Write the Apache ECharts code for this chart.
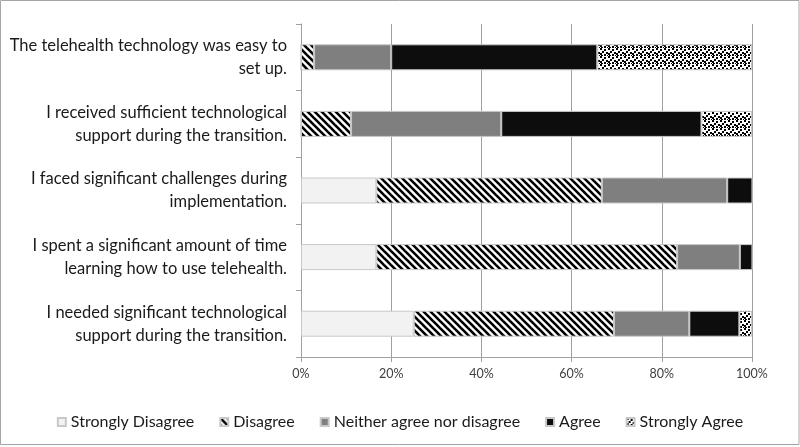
<!DOCTYPE html>
<html>
<head>
<meta charset="utf-8">
<script src="https://cdn.jsdelivr.net/npm/echarts@6/dist/echarts.min.js"></script>
<style>
html,body{margin:0;padding:0;background:#fff;}
#c{width:800px;height:447px;}
</style>
</head>
<body>
<div id="c"></div>
<script>
const categories = [
  "The telehealth technology was easy to\nset up.",
  "I received sufficient technological\nsupport during the transition.",
  "I faced significant challenges during\nimplementation.",
  "I spent a significant amount of time\nlearning how to use telehealth.",
  "I needed significant technological\nsupport during the transition."
];
const seriesNames = ["Strongly Disagree", "Disagree", "Neither agree nor disagree", "Agree", "Strongly Agree"];
const stronglyDisagree = [0, 0, 16.7, 16.7, 25.0];
const disagree = [2.9, 11.1, 50.0, 66.7, 44.4];
const neither = [17.1, 33.3, 27.8, 13.9, 16.7];
const agree = [45.7, 44.4, 5.6, 2.8, 11.1];
const stronglyAgree = [34.3, 11.2, 0, 0, 2.8];
const xTicks = [0, 20, 40, 60, 80, 100];

function stripeTile() {
  const c = document.createElement('canvas');
  const s = 7;
  c.width = s; c.height = s;
  const g = c.getContext('2d');
  g.fillStyle = '#fff'; g.fillRect(0, 0, s, s);
  g.strokeStyle = '#000'; g.lineWidth = 2.6;
  for (let i = -1; i <= 1; i++) {
    g.beginPath(); g.moveTo(i * s - 1, -1); g.lineTo(i * s + s + 1, s + 1); g.stroke();
  }
  return c;
}
function dotTile() {
  const c = document.createElement('canvas');
  const s = 8;
  c.width = s; c.height = s;
  const g = c.getContext('2d');
  g.fillStyle = '#fff'; g.fillRect(0, 0, s, s);
  g.fillStyle = '#000';
  const pts = [[0,0],[4,1],[2,3],[6,4],[0,5],[4,6],[7,7],[1,7]];
  pts.forEach(p => g.fillRect(p[0], p[1], 2, 2));
  return c;
}

const colors = [
  '#f2f2f2',
  { image: stripeTile(), repeat: 'repeat' },
  '#7f7f7f',
  '#0d0d0d',
  { image: dotTile(), repeat: 'repeat' }
];
const dataSets = [stronglyDisagree, disagree, neither, agree, stronglyAgree];

const chart = echarts.init(document.getElementById('c'), null, { renderer: 'canvas' });
chart.setOption({
  animation: false,
  textStyle: { fontFamily: 'Lato' },
  graphic: [{
    type: 'rect', shape: { x: 0.5, y: 0.5, width: 798.5, height: 444 },
    style: { fill: 'none', stroke: '#a6a6a6', lineWidth: 1 }, silent: true
  }],
  grid: { left: 301, right: 48, top: 24, bottom: 90 },
  legend: {
    bottom: 12, left: 'center',
    itemWidth: 8, itemHeight: 8, itemGap: 25,
    icon: 'rect',
    textStyle: { fontSize: 16, color: '#1a1a1a', fontFamily: 'Lato' },
    data: seriesNames
  },
  xAxis: {
    type: 'value', min: 0, max: 100, interval: 20,
    axisLine: { show: true, lineStyle: { color: '#a0a0a0' } },
    axisTick: { show: true, length: 5, lineStyle: { color: '#a0a0a0' } },
    splitLine: { show: true, lineStyle: { color: '#a0a0a0', width: 1 } },
    axisLabel: { formatter: v => xTicks.includes(v) ? v + '%' : '', fontSize: 12.5, color: '#404040', margin: 10, fontFamily: 'Lato' }
  },
  yAxis: {
    type: 'category', data: categories, inverse: true,
    axisLine: { show: true, lineStyle: { color: '#a0a0a0' } },
    axisTick: { show: true, length: 5, lineStyle: { color: '#a0a0a0' } },
    axisLabel: { fontSize: 16.5, color: '#1a1a1a', lineHeight: 23, margin: 14, align: 'right', fontFamily: 'Lato' }
  },
  series: dataSets.map((d, i) => ({
    name: seriesNames[i], type: 'bar', stack: 'total', data: d,
    barWidth: 26,
    itemStyle: { color: colors[i], borderColor: '#c8c8c8', borderWidth: 1 }
  }))
});
</script>
</body>
</html>
